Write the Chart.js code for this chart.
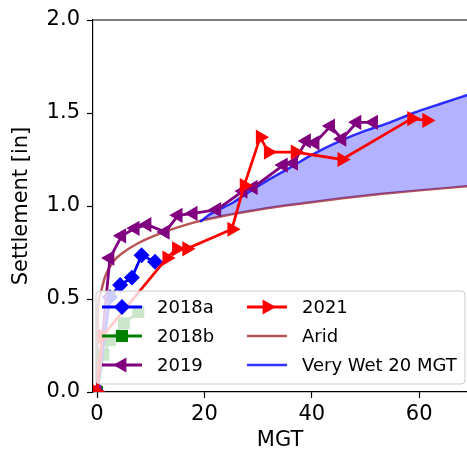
<!DOCTYPE html>
<html>
<head>
<meta charset="utf-8">
<script src="https://cdn.jsdelivr.net/npm/chart.js@4.4.0/dist/chart.umd.min.js"></script>
<style>
  html, body { margin: 0; padding: 0; background: #fff; overflow: hidden; }
  canvas { display: block; }
</style>
</head>
<body>
<canvas id="chart" width="467" height="453"></canvas>
<script>
// values (MGT vs settlement in inches)
var mgt2018a = [0, 2.4, 4.3, 6.5, 8.3, 10.8]
var set2018a = [0, 0.51, 0.575, 0.615, 0.735, 0.70]

var mgt2018b = [0, 1.2, 2.4, 5.0, 7.7]
var set2018b = [0, 0.20, 0.28, 0.37, 0.43]

var mgt2019 = [0, 2.4, 4.6, 7.1, 9.3, 12.7, 15.1, 17.9, 22.3, 27.2, 29.1, 34.7, 36.6, 39.0, 40.6, 43.5, 45.6, 48.4, 51.5]
var set2019 = [0, 0.72, 0.84, 0.88, 0.90, 0.86, 0.95, 0.96, 0.98, 1.08, 1.10, 1.22, 1.23, 1.35, 1.34, 1.43, 1.36, 1.45, 1.45]

var mgt2021 = [0, 1.0, 13.0, 14.8, 16.7, 25.1, 27.4, 30.4, 31.9, 36.9, 45.6, 58.6, 61.4]
var set2021 = [0, 0.30, 0.72, 0.77, 0.77, 0.875, 1.11, 1.37, 1.29, 1.29, 1.25, 1.47, 1.46]

var mgtArid = [0, 0.2, 0.56, 1.5, 3, 4.9, 8, 11.1, 15, 19.2, 25, 30, 37.8, 45.3, 52.7, 60, 69]
var setArid = [0, 0.44, 0.52, 0.62, 0.70, 0.75, 0.805, 0.845, 0.885, 0.92, 0.955, 0.98, 1.012, 1.04, 1.064, 1.084, 1.106]

var mgtWet = [19.2, 21, 25.4, 28.5, 31.6, 35.9, 40, 45.3, 50, 54.6, 58.9, 64, 69]
var setWet = [0.915, 0.955, 1.02, 1.08, 1.135, 1.205, 1.275, 1.35, 1.405, 1.45, 1.50, 1.55, 1.597]

var xTicksStep = 20
var yTicksStep = 0.5

function pts(xs, ys) {
  return xs.map(function(x, i) { return {x: x, y: ys[i]} })
}

var axisFont = {family: "DejaVu Sans", size: 21}

// matplotlib-ish legend sitting inside the axes
var boxLegend = {
  id: "boxLegend",
  afterDatasetsDraw: function(chart) {
    var ctx = chart.ctx
    var area = chart.chartArea
    var x0 = area.left + 3, y0 = area.top + 271
    var w = 369, h = 93
    ctx.save()
    ctx.beginPath()
    ctx.roundRect(x0, y0, w, h, 4)
    ctx.fillStyle = "rgba(255,255,255,0.8)"
    ctx.fill()
    ctx.strokeStyle = "#cccccc"
    ctx.lineWidth = 1
    ctx.stroke()

    ctx.font = "18px 'DejaVu Sans'"
    ctx.textBaseline = "middle"
    chart.data.datasets.forEach(function(ds, n) {
      var col = Math.floor(n / 3), row = n % 3
      var hx = x0 + 6 + col * 145
      var ty = y0 + 16 + row * 29
      ctx.strokeStyle = ds.borderColor
      ctx.lineWidth = ds.borderWidth
      ctx.beginPath()
      ctx.moveTo(hx, ty)
      ctx.lineTo(hx + 40, ty)
      ctx.stroke()
      if (ds.pointRadius > 0) {
        ctx.fillStyle = ds.borderColor
        Chart.helpers.drawPoint(ctx, {
          pointStyle: ds.pointStyle,
          radius: ds.pointRadius,
          rotation: ds.pointRotation || 0,
          borderWidth: 1
        }, hx + 20, ty)
      }
      ctx.fillStyle = "#000"
      ctx.fillText(ds.label, hx + 55, ty + 1)
    })
    ctx.restore()
  }
}

var topSpine = {
  id: "topSpine",
  afterDraw: function(chart) {
    var ctx = chart.ctx
    var a = chart.chartArea
    ctx.save()
    ctx.strokeStyle = "#000"
    ctx.lineWidth = 1.2
    ctx.beginPath()
    ctx.moveTo(a.left, a.top)
    ctx.lineTo(a.right, a.top)
    ctx.stroke()
    ctx.restore()
  }
}

function series(label, xs, ys, color, style, rot, radius, order) {
  return {
    label: label,
    data: pts(xs, ys),
    borderColor: color,
    backgroundColor: color,
    pointBackgroundColor: color,
    pointBorderColor: color,
    borderWidth: 2.8,
    pointStyle: style,
    pointRotation: rot,
    pointRadius: radius,
    tension: 0,
    fill: false,
    order: order,
  }
}

new Chart(document.getElementById("chart"), {
  type: "line",
  data: {
    datasets: [
      series("2018a", mgt2018a, set2018a, "#0000ff", "rectRot", 0, 6, 3),
      series("2018b", mgt2018b, set2018b, "#008000", "rect", 0, 6.5, 4),
      series("2019", mgt2019, set2019, "#800080", "triangle", -90, 6, 2),
      series("2021", mgt2021, set2021, "#ff0000", "triangle", 90, 6, 1),
      {
        label: "Arid",
        data: pts(mgtArid, setArid),
        borderColor: "rgba(165,42,42,0.8)",
        borderWidth: 2.5,
        pointRadius: 0,
        cubicInterpolationMode: "monotone",
        fill: false,
        order: 6,
      },
      {
        label: "Very Wet 20 MGT",
        data: pts(mgtWet, setWet),
        borderColor: "rgba(0,0,255,0.8)",
        backgroundColor: "rgba(0,0,255,0.3)",
        borderWidth: 2.5,
        pointRadius: 0,
        cubicInterpolationMode: "monotone",
        fill: {target: 4},
        order: 5,
      },
    ],
  },
  options: {
    responsive: false,
    animation: false,
    layout: {autoPadding: false, padding: {top: 20, right: 0, left: 0, bottom: 0}},
    plugins: {
      legend: {display: false},
      tooltip: {enabled: false},
    },
    scales: {
      x: {
        type: "linear",
        min: -0.75,
        max: 68.9,
        ticks: {stepSize: xTicksStep, includeBounds: false, font: axisFont, color: "#000", padding: 4},
        grid: {display: true, drawOnChartArea: false, drawTicks: true, tickLength: 6, tickColor: "#000", tickWidth: 1.2},
        border: {color: "#000", width: 1.2},
        title: {display: true, text: "MGT", font: axisFont, color: "#000", padding: {top: 0, bottom: 0}},
        afterFit: function(s) {
          s.height = 61
          s.paddingLeft = 0
          s.paddingRight = 0
        },
      },
      y: {
        type: "linear",
        min: 0,
        max: 2,
        ticks: {
          stepSize: yTicksStep,
          font: axisFont,
          color: "#000",
          padding: 7,
          callback: function(v) { return v.toFixed(1) },
        },
        grid: {display: true, drawOnChartArea: false, drawTicks: true, tickLength: 6, tickColor: "#000", tickWidth: 1.2},
        border: {color: "#000", width: 1.2},
        title: {display: true, text: "Settlement [in]", font: axisFont, color: "#000", padding: {top: 9, bottom: 0}},
        afterFit: function(s) {
          s.width = 93
          s.paddingTop = 0
          s.paddingBottom = 0
        },
      },
    },
  },
  plugins: [boxLegend, topSpine],
})
</script>
</body>
</html>
